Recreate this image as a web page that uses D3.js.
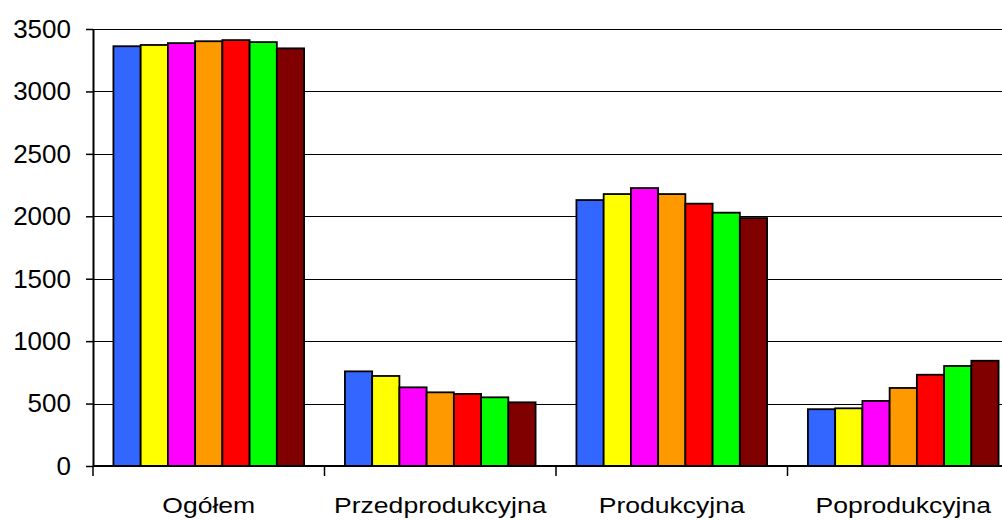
<!DOCTYPE html>
<html><head><meta charset="utf-8">
<script src="https://cdn.jsdelivr.net/npm/d3@7"></script>
<style>
html,body{margin:0;padding:0;background:#fff;overflow:hidden}
svg{display:block;font-family:"Liberation Sans",Arial,sans-serif}
</style></head>
<body>
<svg id="chart" width="1002" height="520"></svg>
<script>
const categories = ["Ogółem", "Przedprodukcyjna", "Produkcyjna", "Poprodukcyjna"];
const seriesNames = ["Seria 1", "Seria 2", "Seria 3", "Seria 4", "Seria 5", "Seria 6", "Seria 7"];
const seriesColors = ["#3366FF", "#FFFF00", "#FF00FF", "#FF9900", "#FF0000", "#00FF00", "#800000"];
const s1 = [3362, 758, 2130, 455];
const s2 = [3372, 721, 2178, 462];
const s3 = [3387, 630, 2226, 521];
const s4 = [3402, 590, 2178, 625];
const s5 = [3411, 577, 2101, 731];
const s6 = [3395, 550, 2029, 801];
const s7 = [3345, 510, 1986, 843];
const yTicks = [0, 500, 1000, 1500, 2000, 2500, 3000, 3500];

const seriesValues = [s1, s2, s3, s4, s5, s6, s7];
const svg = d3.select("#chart");
const mLeft = 93, mTop = 29, mBottom = 466, mRight = 1019;

const x0 = d3.scaleBand().domain(categories).range([mLeft, mRight]).padding(0);
const x1 = d3.scaleBand().domain(seriesNames).range([0, x0.bandwidth()]).paddingInner(0).paddingOuter(0.75);
const y = d3.scaleLinear().domain([0, 3500]).range([mBottom, mTop]);

// gridlines
svg.append("g").selectAll("line").data(yTicks.filter(d => d > 0)).join("line")
  .attr("x1", mLeft).attr("x2", 1002)
  .attr("y1", d => Math.round(y(d)) + 0.5).attr("y2", d => Math.round(y(d)) + 0.5)
  .attr("stroke", "#000").attr("stroke-width", 1.2);

// bars
const groups = svg.append("g").selectAll("g").data(categories).join("g")
  .attr("transform", c => `translate(${x0(c)},0)`);
groups.selectAll("rect").data((c, ci) => seriesNames.map((s, si) => ({s, si, v: seriesValues[si][ci]})))
  .join("rect")
  .attr("x", d => x1(d.s))
  .attr("width", x1.bandwidth())
  .attr("y", d => y(d.v))
  .attr("height", d => y(0) - y(d.v))
  .attr("fill", d => seriesColors[d.si])
  .attr("stroke", "#000").attr("stroke-width", 1.8);

// y axis
const yAxis = svg.append("g").attr("transform", `translate(${mLeft},0)`)
  .call(d3.axisLeft(y).tickValues(yTicks).tickFormat(d3.format("d")).tickSize(7).tickSizeOuter(0).tickPadding(15));
yAxis.select(".domain").attr("stroke", "#000").attr("stroke-width", 2);
yAxis.selectAll(".tick line").attr("stroke", "#000").attr("stroke-width", 1.5);
yAxis.selectAll(".tick text").attr("font-size", 26).attr("fill", "#000")
  .attr("font-family", "'Liberation Sans', Arial, sans-serif");

// x axis
const xAxis = svg.append("g").attr("transform", `translate(0,${mBottom})`);
xAxis.append("line").attr("x1", mLeft).attr("x2", 1002).attr("y1", 0).attr("y2", 0)
  .attr("stroke", "#000").attr("stroke-width", 2);
const boundaries = categories.map(c => x0(c));
xAxis.selectAll("line.tk").data(boundaries).join("line").attr("class", "tk")
  .attr("x1", d => d).attr("x2", d => d).attr("y1", 0).attr("y2", 10)
  .attr("stroke", "#000").attr("stroke-width", 1.5);
xAxis.selectAll("text").data(categories).join("text")
  .attr("transform", c => `translate(${x0(c) + x0.bandwidth() / 2},47) scale(1.18,1)`)
  .attr("text-anchor", "middle")
  .attr("font-size", 22.5).attr("fill", "#000")
  .text(c => c);
</script>
</body></html>
